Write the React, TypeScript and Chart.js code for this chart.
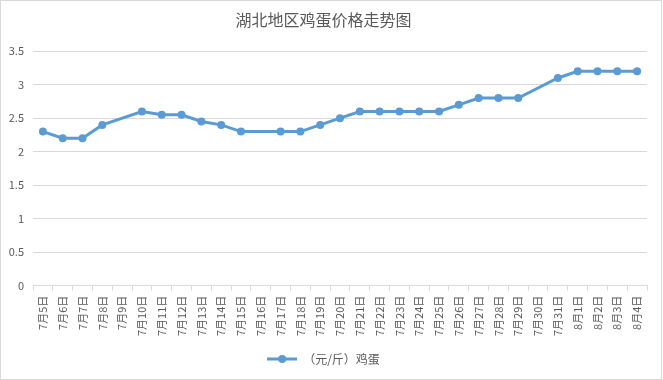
import React, { useEffect, useRef } from "react";
import { Chart, registerables } from "chart.js";

Chart.register(...registerables);

const categories = [
  "7月5日", "7月6日", "7月7日", "7月8日", "7月9日", "7月10日", "7月11日", "7月12日",
  "7月13日", "7月14日", "7月15日", "7月16日", "7月17日", "7月18日", "7月19日", "7月20日",
  "7月21日", "7月22日", "7月23日", "7月24日", "7月25日", "7月26日", "7月27日", "7月28日",
  "7月29日", "7月30日", "7月31日", "8月1日", "8月2日", "8月3日", "8月4日",
];

const eggPrices: (number | null)[] = [
  2.3, 2.2, 2.2, 2.4, null, 2.6, 2.55, 2.55,
  2.45, 2.4, 2.3, null, 2.3, 2.3, 2.4, 2.5,
  2.6, 2.6, 2.6, 2.6, 2.6, 2.7, 2.8, 2.8,
  2.8, null, 3.1, 3.2, 3.2, 3.2, 3.2,
];

const seriesLabel = "（元/斤）鸡蛋";
const chartTitle = "湖北地区鸡蛋价格走势图";

const LINE = "#5b9bd5";
const TEXT = "#595959";
const GRID = "#d9d9d9";
const FONT = "'Noto Sans CJK SC', 'Microsoft YaHei', sans-serif";

export default function App() {
  const ref = useRef<HTMLCanvasElement>(null);

  useEffect(() => {
    document.body.style.margin = "0";
    const legendIcon = document.createElement("canvas");
    legendIcon.width = 30;
    legendIcon.height = 10;
    const ictx = legendIcon.getContext("2d")!;
    ictx.strokeStyle = LINE;
    ictx.lineWidth = 3;
    ictx.beginPath();
    ictx.moveTo(0, 5);
    ictx.lineTo(30, 5);
    ictx.stroke();
    ictx.fillStyle = LINE;
    ictx.beginPath();
    ictx.arc(15, 5, 4, 0, Math.PI * 2);
    ictx.fill();

    const bgPlugin = {
      id: "bgBorder",
      beforeDraw(chart: any) {
        const c = chart.ctx;
        c.save();
        c.fillStyle = "#ffffff";
        c.fillRect(0, 0, chart.width, chart.height);
        c.strokeStyle = GRID;
        c.lineWidth = 1;
        c.strokeRect(0.5, 0.5, chart.width - 2, chart.height - 1);
        c.restore();
      },
    };

    const chart = new Chart(ref.current!, {
      type: "line",
      data: {
        labels: categories,
        datasets: [
          {
            label: seriesLabel,
            data: eggPrices,
            borderColor: LINE,
            backgroundColor: LINE,
            borderWidth: 3,
            pointRadius: 4,
            pointHoverRadius: 4,
            pointBackgroundColor: LINE,
            pointBorderWidth: 0,
            spanGaps: true,
            tension: 0,
          },
        ],
      },
      options: {
        responsive: false,
        animation: false,
        layout: { padding: { left: 0, right: 16, top: 0, bottom: 5 } },
        font: { family: FONT },
        plugins: {
          title: {
            display: true,
            text: chartTitle,
            color: TEXT,
            font: { family: FONT, size: 16, weight: "normal" },
            padding: { top: 10, bottom: 22 },
          },
          legend: {
            position: "bottom",
            labels: {
              color: TEXT,
              font: { family: FONT, size: 12 },
              usePointStyle: true,
              pointStyle: legendIcon as any,
              pointStyleWidth: 30,
              padding: 12,
            },
          },
          tooltip: { enabled: false },
        },
        scales: {
          x: {
            type: "category",
            offset: true,
            grid: {
              offset: true,
              drawOnChartArea: false,
              drawTicks: true,
              tickLength: 5,
              color: GRID,
            },
            border: { color: GRID },
            ticks: {
              color: TEXT,
              font: { family: FONT, size: 11 },
              maxRotation: 90,
              minRotation: 90,
              autoSkip: false,
              padding: 5,
            },
          },
          y: {
            min: 0,
            max: 3.5,
            grid: { color: GRID, drawTicks: false },
            border: { display: false },
            ticks: {
              stepSize: 0.5,
              color: TEXT,
              font: { family: FONT, size: 11 },
              padding: 9,
              callback: (v: any) => String(Number(v)),
            },
            afterFit(scale: any) {
              scale.width = 33;
            },
          },
        },
      },
      plugins: [bgPlugin],
    });
    return () => chart.destroy();
  }, []);

  return (
    <div style={{ width: 663, height: 380 }}>
      <canvas ref={ref} width={663} height={380} style={{ display: "block" }} />
    </div>
  );
}
